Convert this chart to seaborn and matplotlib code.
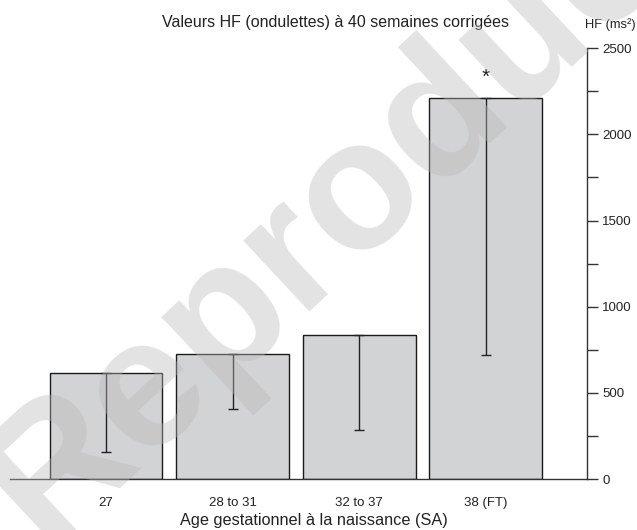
import matplotlib
matplotlib.use("Agg")
import matplotlib.pyplot as plt
from matplotlib.ticker import MultipleLocator
import seaborn as sns
import pandas as pd

# Gestational age groups and HF power (ms²) at 40 weeks corrected age
groups = ["27", "28 to 31", "32 to 37", "38 (FT)"]
hf_mean = [614, 725, 833, 2213]
hf_sd = [459, 318, 548, 1492]

sns.set_theme(style="white")
plt.rcParams["font.family"] = ["Liberation Sans", "DejaVu Sans"]

df = pd.DataFrame({"group": groups, "hf": hf_mean})

fig = plt.figure(figsize=(6.37, 5.30), dpi=100)
ax = fig.add_axes([0.0157, 0.0962, 0.9058, 0.8128])

sns.barplot(data=df, x="group", y="hf", ax=ax, color="#d2d3d5",
            saturation=1, width=0.89, edgecolor="#1a1a1a", linewidth=1.0,
            errorbar=None)

# one-sided (downward) error bars
ax.errorbar(range(len(groups)), hf_mean, yerr=[hf_sd, [0] * len(groups)],
            fmt="none", ecolor="#222222", elinewidth=1.0, capsize=3.6,
            capthick=1.0)

# significance marker over the full-term group
ax.text(3, hf_mean[3] + 120, "*", ha="center", va="center",
        fontsize=15, color="#222222")

ax.set_xlim(-0.76, 3.8)
ax.set_ylim(0, 2500)

ax.yaxis.tick_right()
ax.yaxis.set_major_locator(MultipleLocator(500))
ax.yaxis.set_minor_locator(MultipleLocator(250))
ax.tick_params(axis="y", which="both", direction="out", length=8, width=1,
               color="#333333", labelsize=9.5, labelcolor="#222222", pad=3,
               right=True, left=False)
ax.tick_params(axis="x", length=0, labelsize=9.5, labelcolor="#222222", pad=13)

for side in ["left", "top"]:
    ax.spines[side].set_visible(False)
ax.spines["right"].set_color("#333333")
ax.spines["bottom"].set_color("#333333")
ax.spines["right"].set_linewidth(1.0)
ax.spines["bottom"].set_linewidth(1.0)

ax.set_xlabel("Age gestationnel à la naissance (SA)", fontsize=11.7,
              color="#222222")
ax.xaxis.set_label_coords(0.527, -0.078)
ax.set_ylabel("")

fig.text(0.526, 0.958, "Valeurs HF (ondulettes) à 40 semaines corrigées",
         ha="center", va="center", fontsize=11.5, color="#222222")
fig.text(0.918, 0.953, "HF (ms²)", ha="left", va="center", fontsize=9.3,
         color="#222222")

# watermark
fig.text(0.071, -0.032, "Reproduction", rotation=43, fontsize=132,
         fontweight="bold", color="#b9b9b9", alpha=0.4, ha="left",
         va="baseline", rotation_mode="anchor")

fig.savefig("out.png", dpi=100)
